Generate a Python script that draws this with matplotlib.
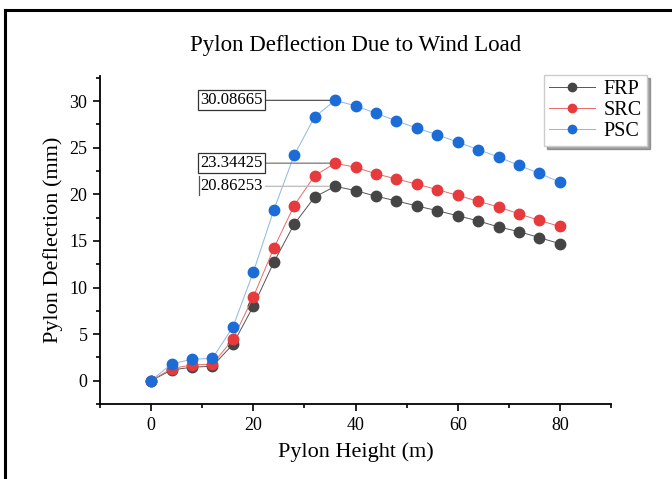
import matplotlib
matplotlib.use("Agg")
from matplotlib import pyplot as plt
from matplotlib.lines import Line2D
from matplotlib.ticker import MultipleLocator

plt.rcParams['font.family'] = ['Liberation Serif', 'DejaVu Serif']

# data
height = [0, 4, 8, 12, 16, 20, 24, 28, 32, 36, 40, 44, 48, 52, 56, 60, 64, 68, 72, 76, 80]
frp = [0, 1.15, 1.45, 1.55, 3.9, 8.0, 12.7, 16.8, 19.7, 20.86253, 20.4, 19.8, 19.3,
       18.75, 18.25, 17.7, 17.15, 16.5, 16.0, 15.35, 14.7]
src = [0, 1.3, 1.7, 1.75, 4.45, 9.0, 14.2, 18.8, 22.0, 23.34425, 22.9, 22.2, 21.65,
       21.1, 20.5, 19.9, 19.25, 18.65, 17.9, 17.2, 16.55]
psc = [0, 1.8, 2.3, 2.4, 5.75, 11.65, 18.3, 24.2, 28.3, 30.08665, 29.5, 28.7, 27.9,
       27.1, 26.4, 25.6, 24.8, 24.0, 23.1, 22.25, 21.3]
series = ['FRP', 'SRC', 'PSC']
marker_colors = ['#454545', '#e63a3c', '#1c6cd8']
line_colors = ['#555555', '#e86a6a', '#8ab8e2']

fig = plt.figure(figsize=(6.72, 4.79), dpi=100)
ax = fig.add_axes([100 / 672, 1 - 404 / 479, 511 / 672, 328 / 479])

for name, vals, mc, lc in zip(series, [frp, src, psc], marker_colors, line_colors):
    ax.plot(height, vals, color=lc, lw=0.7, marker='o', ms=7.5,
            markerfacecolor=mc, markeredgecolor=mc, label=name)

ax.set_xlim(-10, 90)
ax.set_ylim(-2.5, 32.7)
ax.xaxis.set_major_locator(MultipleLocator(20))
ax.xaxis.set_minor_locator(MultipleLocator(10))
ax.yaxis.set_major_locator(MultipleLocator(5))
ax.yaxis.set_minor_locator(MultipleLocator(2.5))
ax.tick_params(which='major', length=5, width=1.2, labelsize=13, direction='out', pad=4)
ax.tick_params(which='minor', length=3, width=1.2, direction='out')
for s in ['top', 'right']:
    ax.spines[s].set_visible(False)
for s in ['left', 'bottom']:
    ax.spines[s].set_linewidth(1.3)

fig.text((100 + 255.5) / 672, 1 - 45 / 479, 'Pylon Deflection Due to Wind Load',
         fontsize=16.5, ha='center', va='center')
ax.set_xlabel('Pylon Height (m)', fontsize=16)
ax.xaxis.set_label_coords(0.5, -0.146)
ax.xaxis.label.set_va('center')
ax.set_ylabel('Pylon Deflection (mm)', fontsize=16)
ax.yaxis.set_label_coords(-0.092, 0.5)
ax.yaxis.label.set_va('center')

# peak labels
peaks = [psc[9], src[9], frp[9]]
for val, boxed, lcol in zip(peaks, [True, True, False], ['#555555', '#777777', '#bbbbbb']):
    ax.annotate('%.5f' % val, xy=(height[9], val), xytext=(9.6, val),
                fontsize=12, va='center', ha='left',
                bbox=dict(boxstyle='square,pad=0.12', fc='white',
                          ec='#333333' if boxed else 'none', lw=0.9),
                arrowprops=dict(arrowstyle='-', color=lcol, lw=0.9,
                                shrinkA=0, shrinkB=4))
ax.plot([9.4, 9.4], [19.9, 22.0], color='#555555', lw=0.9, zorder=10)

leg = ax.legend(loc='upper left', bbox_to_anchor=(0.869, 1.003), fontsize=14.5,
                frameon=True, fancybox=False, shadow=True, edgecolor='#cccccc',
                markerscale=0.8, handlelength=2.3, borderpad=0.25,
                labelspacing=0.1, handletextpad=0.4, borderaxespad=0)

# outer frame of the figure
fig.add_artist(Line2D([5 / 672, 5 / 672], [0, 1 - 10 / 479], color='black', lw=2.2))
fig.add_artist(Line2D([5 / 672, 1], [1 - 10 / 479, 1 - 10 / 479], color='black', lw=2.2))

fig.savefig('out.png', dpi=100)
